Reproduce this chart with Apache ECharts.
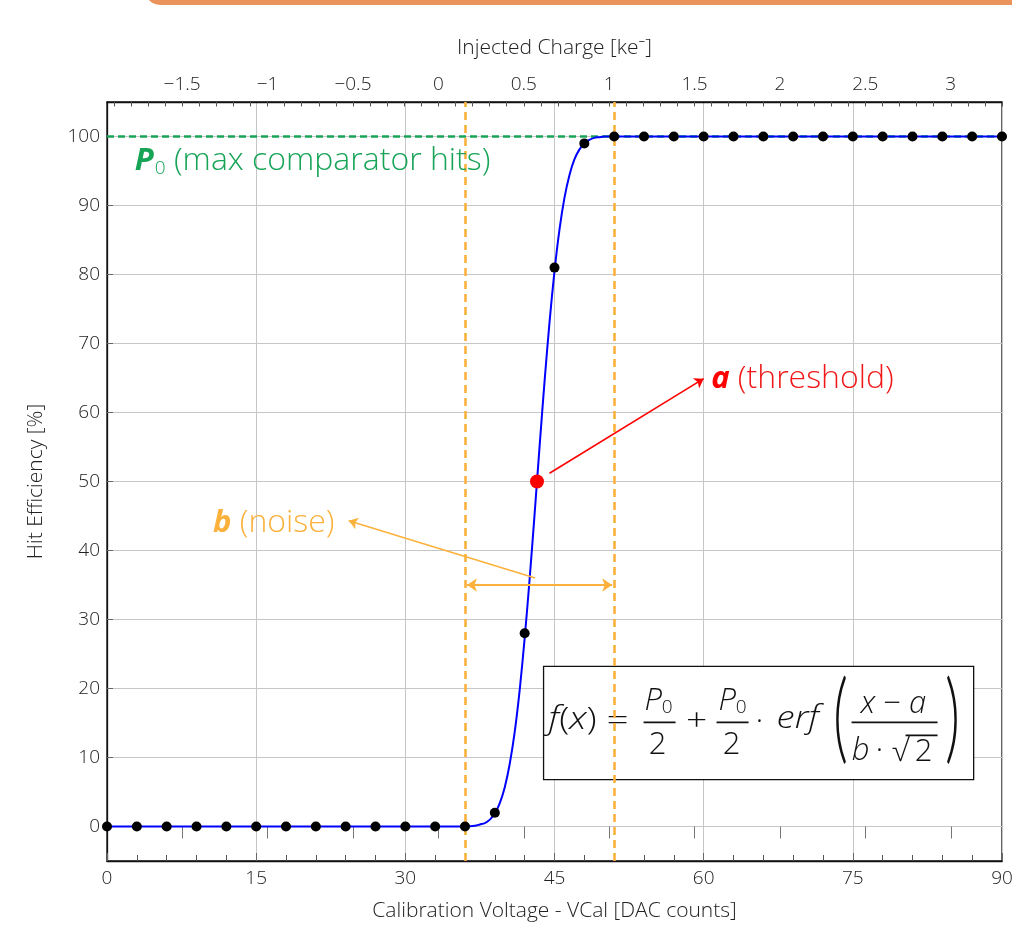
<!DOCTYPE html>
<html><head><meta charset="utf-8">
<script src="https://cdn.jsdelivr.net/npm/echarts@6/dist/echarts.min.js"></script>
<style>html,body{margin:0;padding:0;background:#fff}#c{width:1012px;height:934px}</style>
</head><body><div id="c"></div>
<script>
// ---- data ----
const vcal = [0,3,6,9,12,15,18,21,24,27,30,33,36,39,42,45,48,51,54,57,60,63,66,69,72,75,78,81,84,87,90];
const hits = [0,0,0,0,0,0,0,0,0,0,0,0,0,2,28,81,99,100,100,100,100,100,100,100,100,100,100,100,100,100,100];
const fitVcal = [0,36,37,37.5,38,38.5,39,39.5,40,40.5,41,41.5,42,42.5,43,43.5,44,44.5,45,45.5,46,46.5,47,47.5,48,48.5,49,49.5,50,51,90];
const fitHits = [0,0,0.1,0.3,0.5,1.0,1.9,3.4,5.7,9.1,13.7,19.8,27.3,35.9,45.3,55.1,64.5,73.1,80.5,86.5,91.1,94.4,96.7,98.1,99.0,99.5,99.8,99.9,100,100,100];
const thresholdVcal = [43.24];
const thresholdHits = [50];
const noiseEdges = [36, 51];
const p0Level = [100];
const yTickLabels = [0,10,20,30,40,50,60,70,80,90,100];
const chargeTickLabels = [-1.5,-1,-0.5,0,0.5,1,1.5,2,2.5,3];
const vcalTickInterval = 15;

// ---- styling ----
const FONT = "'Open Sans','Noto Sans',sans-serif";
const TXT = '#222';
const ORANGE = '#fbb13c';
const GREEN = '#17a457';
const RED = '#ff0000';
const chargeMin = -1.94, chargeMax = 3.30;
const minorCharge = [];
for (let v = -19; v <= 33; v++) minorCharge.push(+(v/10).toFixed(1));
const fmtCharge = v => (v < 0 ? '\u2212' + String(-v) : String(v));
const nameStyle = {fontSize:21, color:TXT, fontFamily:FONT, fontWeight:300};

const chart = echarts.init(document.getElementById('c'), null, {renderer:'canvas'});
const option = {
  animation: false,
  backgroundColor: '#fff',
  textStyle: {fontFamily: FONT},
  grid: {left:107, right:10, top:102, bottom:73, outerBoundsMode:'none', containLabel:false,
         show:true, borderColor:'#111', borderWidth:1.3, backgroundColor:'transparent'},
  xAxis: [
    {type:'value', min:0, max:90, interval:vcalTickInterval, position:'bottom',
     name:'Calibration Voltage - VCal [DAC counts]', nameLocation:'middle', nameGap:40,
     nameTextStyle:nameStyle,
     axisLine:{show:true, onZero:false, lineStyle:{color:'#111', width:1.3}},
     axisTick:{show:true, inside:true, length:8, lineStyle:{color:'#666'}},
     minorTick:{show:true, splitNumber:5, length:6, lineStyle:{color:'#555'}},
     axisLabel:{fontSize:19, color:TXT, margin:8, fontWeight:300, alignMaxLabel:'center', alignMinLabel:'center', hideOverlap:false},
     splitLine:{show:true, lineStyle:{color:'#c6c6c6', width:1}}},
    {type:'value', min:chargeMin, max:chargeMax, position:'top',
     name:'Injected Charge [ke\u207B]', nameLocation:'middle', nameGap:43,
     nameTextStyle:nameStyle,
     axisLine:{show:true, onZero:false, lineStyle:{color:'#111', width:1.3}},
     axisTick:{show:true, inside:true, length:4.5, customValues:minorCharge, lineStyle:{color:'#555'}},
     axisLabel:{fontSize:19, color:TXT, margin:8, fontWeight:300, customValues:chargeTickLabels, formatter:fmtCharge},
     splitLine:{show:false}},
    {type:'value', min:chargeMin, max:chargeMax, position:'top',
     axisLine:{show:false},
     axisTick:{show:true, inside:true, length:12, customValues:chargeTickLabels, lineStyle:{color:'#777'}},
     axisLabel:{show:false}, splitLine:{show:false}}
  ],
  yAxis: [{type:'value', min:-5, max:105,
     name:'Hit Efficiency [%]', nameLocation:'middle', nameGap:60,
     nameTextStyle:nameStyle,
     axisLine:{show:true, onZero:false, lineStyle:{color:'#111', width:1.3}},
     axisTick:{show:true, inside:true, length:6, customValues:yTickLabels, lineStyle:{color:'#666'}},
     axisLabel:{fontSize:19, color:TXT, margin:7, fontWeight:300, customValues:yTickLabels},
     splitLine:{show:true, lineStyle:{color:'#c6c6c6', width:1}}}],
  series: [
    {name:'guides', type:'line', data:[], xAxisIndex:0, yAxisIndex:0, z:1,
     markLine:{z:1, silent:true, symbol:['none','none'], label:{show:false}, animation:false,
       data:[
         {xAxis:noiseEdges[0], lineStyle:{color:ORANGE, width:2.6, type:[8,5]}},
         {xAxis:noiseEdges[1], lineStyle:{color:ORANGE, width:2.6, type:[8,5]}},
         {yAxis:p0Level[0], lineStyle:{color:GREEN, width:2.6, type:[7,4]}}
       ]}},
    {name:'fit', type:'line', xAxisIndex:0, yAxisIndex:0, smooth:0.3,
     symbol:'none', lineStyle:{color:'#0000ff', width:2}, z:3,
     data: fitVcal.map((x,i)=>[x, fitHits[i]])},
    {name:'hits', type:'scatter', xAxisIndex:0, yAxisIndex:0, symbolSize:10, z:4,
     itemStyle:{color:'#000', opacity:1}, data: vcal.map((x,i)=>[x, hits[i]])},
    {name:'threshold', type:'scatter', xAxisIndex:0, yAxisIndex:0, symbolSize:14, z:5,
     itemStyle:{color:RED, opacity:1}, data: thresholdVcal.map((x,i)=>[x, thresholdHits[i]])},
    {name:'annot', type:'scatter', xAxisIndex:0, yAxisIndex:0, symbolSize:0, z:6, silent:true,
     itemStyle:{opacity:1},
     data:[
       {value:[2.8, 96.4], label:{show:true, position:'right', distance:0,
         formatter:'{b|P}{s|0}{t| (max comparator hits)}',
         rich:{b:{fontSize:31, fontWeight:'bold', fontStyle:'italic', color:GREEN, fontFamily:FONT},
               s:{fontSize:19, color:GREEN, fontFamily:FONT, fontWeight:300, verticalAlign:'bottom', padding:[15,0,0,1]},
               t:{fontSize:32, color:GREEN, fontFamily:FONT, fontWeight:300}}}},
       {value:[60.75, 64.9], label:{show:true, position:'right', distance:0,
         formatter:'{b|a}{t| (threshold)}',
         rich:{b:{fontSize:31, fontWeight:'bold', fontStyle:'italic', color:RED, fontFamily:FONT},
               t:{fontSize:32, color:'#f01818', fontFamily:FONT, fontWeight:300}}}},
       {value:[10.65, 44.0], label:{show:true, position:'right', distance:0,
         formatter:'{b|b}{t| (noise)}',
         rich:{b:{fontSize:31, fontWeight:'bold', fontStyle:'italic', color:ORANGE, fontFamily:FONT},
               t:{fontSize:32, color:ORANGE, fontFamily:FONT, fontWeight:300}}}}
     ],
     markLine:{silent:true, label:{show:false}, animation:false, symbol:['none','arrow'], symbolSize:9,
       data:[
         [{coord:[44.5,51.2], lineStyle:{color:RED, width:1.6, type:'solid'}}, {coord:[60.0,64.9]}],
         [{coord:[43.05,36.0], lineStyle:{color:ORANGE, width:1.6, type:'solid'}}, {coord:[24.3,44.3]}],
         [{coord:[36.2,35.0], symbol:'arrow', symbolSize:10, lineStyle:{color:ORANGE, width:2, type:'solid'}},
          {coord:[50.8,35.0], symbol:'arrow', symbolSize:10}]
       ]}}
  ]
};
chart.setOption(option);

// ---- formula box placed via the data scales ----
const boxTL = chart.convertToPixel({xAxisIndex:0, yAxisIndex:0}, [43.9, 23.2]);
const boxBR = chart.convertToPixel({xAxisIndex:0, yAxisIndex:0}, [87.15, 6.8]);
const W = boxBR[0]-boxTL[0], H = boxBR[1]-boxTL[1];
const FF = "'Open Sans','Noto Sans',sans-serif";
function T(x, y, text, size, opts) {
  opts = opts || {};
  return {type:'text', x:x, y:y, scaleX: opts.sx || 1, scaleY: opts.sy || 1, style:Object.assign({
    text:text, fontSize:size, fontFamily:opts.ff||FF, fontWeight:300, fill:'#111',
    align:opts.align||'center', verticalAlign:'middle', textAlign:opts.align||'center', textVerticalAlign:'middle',
    fontStyle: opts.italic ? 'italic' : 'normal'}, opts.style || {})};
}
function bar(x1, x2, y) {
  return {type:'line', shape:{x1:x1, y1:y, x2:x2, y2:y}, style:{stroke:'#111', lineWidth:1.6}};
}
const mathRich = {
  i:{fontStyle:'italic', fontSize:31, fontFamily:FF, fontWeight:300, fill:'#111'},
  n:{fontSize:31, fontFamily:FF, fontWeight:300, fill:'#111'},
  s:{fontSize:19, fontFamily:FF, fontWeight:300, fill:'#111', verticalAlign:'bottom', padding:[13,0,0,0]}
};
const P0 = {text:'{i|P}{s|0}', rich:mathRich};
chart.setOption({graphic:[
  {type:'rect', left:145, top:-25, shape:{width:1000, height:30, r:18}, style:{fill:'#ea935d'}, silent:true},
  {type:'group', x:boxTL[0], y:boxTL[1], z:100, silent:true, children:[
    {type:'rect', shape:{x:0, y:0, width:W, height:H}, style:{fill:'#fff', stroke:'#111', lineWidth:1.3}},
    T(5, 54, '', 31, {align:'left', sx:1.2, style:{text:'{i|f}{n|(}{i|x}{n|)}', rich:mathRich}}),
    T(74, 56, '=', 31, {sx:1.25}),
    T(115, 35, '', 31, {style:P0}),
    bar(100, 132, 56),
    T(114, 79, '2', 31),
    T(153, 56, '+', 31, {sx:1.2}),
    T(189, 35, '', 31, {style:P0}),
    bar(173, 205, 56),
    T(188, 79, '2', 31),
    T(216, 56, '\u00B7', 31),
    T(233, 53, 'erf', 31, {align:'left', italic:true, sx:1.18}),
    T(297, 53, '(', 58, {sy:1.7, ff:"Lato,'Open Sans',sans-serif"}),
    T(350, 38, '', 31, {style:{text:'{i|x}{n| \u2212 }{i|a}', rich:mathRich}}),
    bar(308, 394, 56),
    T(317, 85, 'b', 31, {italic:true}),
    T(336, 85, '\u00B7', 31),
    T(357, 86, '\u221A', 31),
    T(380, 86, '2', 31),
    bar(362, 394, 69),
    T(409, 53, ')', 58, {sy:1.7, ff:"Lato,'Open Sans',sans-serif"})
  ]}
]});
</script></body></html>
